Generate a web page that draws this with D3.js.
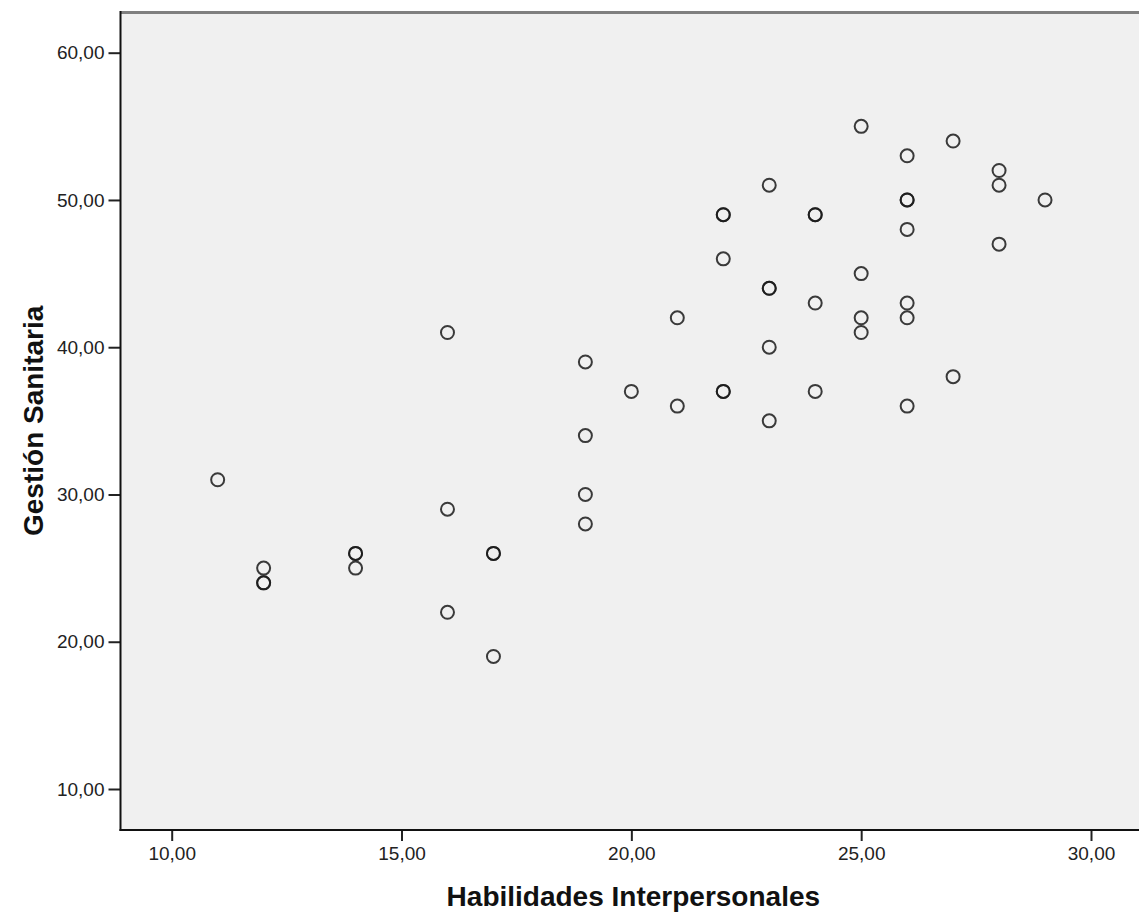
<!DOCTYPE html>
<html>
<head>
<meta charset="utf-8">
<script src="https://cdn.jsdelivr.net/npm/d3@7"></script>
<style>
  body { margin: 0; background: #ffffff; }
  svg { display: block; }
</style>
</head>
<body>
<div id="chart"></div>
<script>
// Habilidades Interpersonales (x) vs Gestión Sanitaria (y)
const habilidades = [11, 12, 12, 12, 14, 14, 14, 16, 16, 16, 17, 17, 17,
  19, 19, 19, 19, 20, 21, 21, 22, 22, 22, 22, 22, 23, 23, 23, 23, 23,
  24, 24, 24, 24, 25, 25, 25, 25, 26, 26, 26, 26, 26, 26, 26, 27, 27,
  28, 28, 28, 29];
const gestion = [31, 25, 24, 24, 26, 26, 25, 41, 29, 22, 26, 26, 19,
  39, 34, 30, 28, 37, 42, 36, 49, 49, 46, 37, 37, 51, 44, 44, 40, 35,
  49, 49, 43, 37, 55, 45, 42, 41, 53, 50, 50, 48, 43, 42, 36, 54, 38,
  52, 51, 47, 50];
const xTicks = [10, 15, 20, 25, 30];
const yTicks = [10, 20, 30, 40, 50, 60];

const width = 1139, height = 916;
// plot frame
const frame = { left: 120.5, right: 1141, top: 12.5, bottom: 830 };

const svg = d3.select("#chart").append("svg")
  .attr("width", width)
  .attr("height", height);

const x = d3.scaleLinear().domain([10, 30]).range([171.7, 1091]);
const y = d3.scaleLinear().domain([10, 60]).range([789, 52.7]);

const fmt = v => d3.format(".2f")(v).replace(".", ",");
const font = "Arial, 'Liberation Sans', sans-serif";

// background
svg.append("rect")
  .attr("x", frame.left).attr("y", frame.top)
  .attr("width", frame.right - frame.left)
  .attr("height", frame.bottom - frame.top)
  .attr("fill", "#f0f0f0");

// top border (grey)
svg.append("line")
  .attr("x1", frame.left).attr("x2", frame.right)
  .attr("y1", 12.5).attr("y2", 12.5)
  .attr("stroke", "#7f7f7f").attr("stroke-width", 3);

// axes
const xAxis = svg.append("g")
  .attr("transform", `translate(0,${frame.bottom})`)
  .call(d3.axisBottom(x).tickValues(xTicks).tickFormat(fmt).tickSize(11).tickPadding(6));
const yAxis = svg.append("g")
  .attr("transform", `translate(${frame.left},0)`)
  .call(d3.axisLeft(y).tickValues(yTicks).tickFormat(fmt).tickSize(12).tickPadding(4));

[xAxis, yAxis].forEach(g => {
  g.select(".domain").remove();
  g.selectAll(".tick line").attr("stroke", "#222").attr("stroke-width", 2);
  g.selectAll(".tick text")
    .attr("fill", "#222")
    .style("font-family", font)
    .style("font-size", "19px");
});

// left and bottom frame lines
svg.append("line")
  .attr("x1", frame.left).attr("x2", frame.left)
  .attr("y1", 11).attr("y2", frame.bottom + 1)
  .attr("stroke", "#111").attr("stroke-width", 2);
svg.append("line")
  .attr("x1", frame.left - 1).attr("x2", frame.right)
  .attr("y1", frame.bottom).attr("y2", frame.bottom)
  .attr("stroke", "#111").attr("stroke-width", 2);

// points (duplicates drawn on top of each other, so they look darker)
svg.append("g").selectAll("circle")
  .data(d3.range(habilidades.length))
  .join("circle")
  .attr("cx", i => x(habilidades[i]))
  .attr("cy", i => y(gestion[i]))
  .attr("r", 6.5)
  .attr("fill", "none")
  .attr("stroke", "#1a1a1a")
  .attr("stroke-width", 2)
  .attr("stroke-opacity", 0.85);

// axis titles
svg.append("text")
  .attr("x", (x(10) + x(30)) / 2 + 2)
  .attr("y", 906)
  .attr("text-anchor", "middle")
  .style("font-family", font)
  .style("font-weight", "bold")
  .style("font-size", "28px")
  .attr("fill", "#111")
  .text("Habilidades Interpersonales");

svg.append("text")
  .attr("transform", `translate(43,${(y(10) + y(60)) / 2}) rotate(-90)`)
  .attr("text-anchor", "middle")
  .style("font-family", font)
  .style("font-weight", "bold")
  .style("font-size", "28px")
  .attr("fill", "#111")
  .text("Gestión Sanitaria");
</script>
</body>
</html>
